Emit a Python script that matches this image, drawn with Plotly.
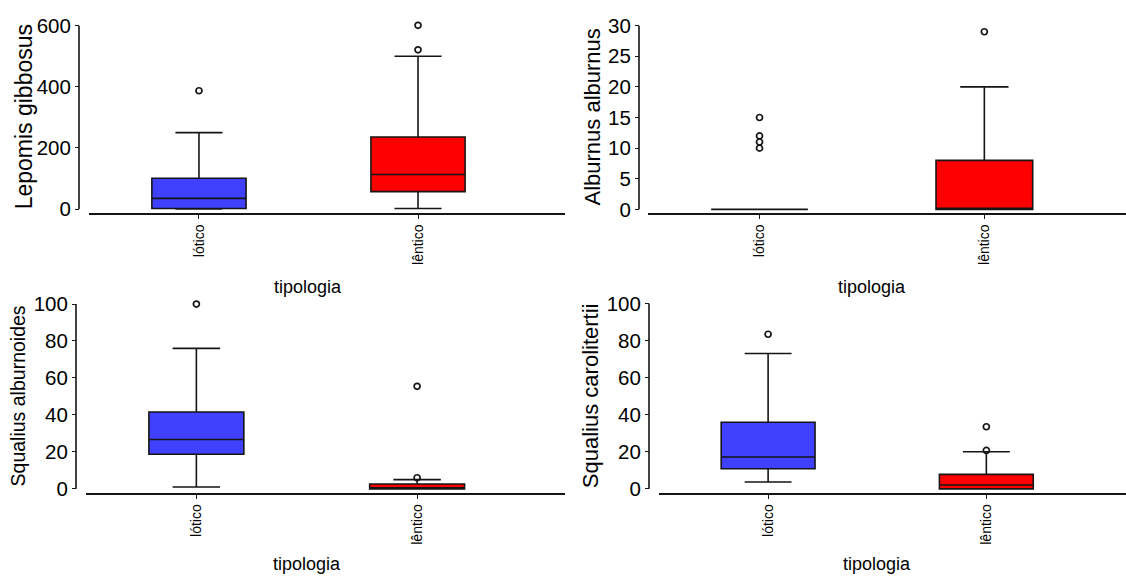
import plotly.graph_objects as go

W, H = 1126, 577

categories = ["lótico", "lêntico"]

# Box statistics per species: [lótico, lêntico]
species = ["Lepomis gibbosus", "Alburnus alburnus", "Squalius alburnoides", "Squalius carolitertii"]

lepomis_q1 = [2, 57]
lepomis_median = [35, 113]
lepomis_q3 = [101, 236]
lepomis_low = [0, 2]
lepomis_high = [250, 500]
lepomis_out_lotico = [387]
lepomis_out_lentico = [521, 601]

alburnus_q1 = [0, 0]
alburnus_median = [0, 0]
alburnus_q3 = [0, 8]
alburnus_low = [0, 0]
alburnus_high = [0, 20]
alburnus_out_lotico = [10, 11, 12, 15]
alburnus_out_lentico = [29]

salb_q1 = [18.7, 0]
salb_median = [26.7, 0]
salb_q3 = [41.6, 2.6]
salb_low = [1, 0]
salb_high = [76, 5]
salb_out_lotico = [100]
salb_out_lentico = [6, 55.5]

scar_q1 = [10.8, 0]
scar_median = [17.2, 2.1]
scar_q3 = [35.9, 7.8]
scar_low = [3.7, 0]
scar_high = [73, 20]
scar_out_lotico = [83.4]
scar_out_lentico = [20.7, 33.5]

y_ticks = [
    [0, 200, 400, 600],
    [0, 5, 10, 15, 20, 25, 30],
    [0, 20, 40, 60, 80, 100],
    [0, 20, 40, 60, 80, 100],
]

stats = [
    (lepomis_q1, lepomis_median, lepomis_q3, lepomis_low, lepomis_high, lepomis_out_lotico, lepomis_out_lentico),
    (alburnus_q1, alburnus_median, alburnus_q3, alburnus_low, alburnus_high, alburnus_out_lotico, alburnus_out_lentico),
    (salb_q1, salb_median, salb_q3, salb_low, salb_high, salb_out_lotico, salb_out_lentico),
    (scar_q1, scar_median, scar_q3, scar_low, scar_high, scar_out_lotico, scar_out_lentico),
]

fills = ["#4040ff", "#ff0000"]
ink = "#151515"

# Panel geometry in pixels
panels = [
    dict(xl=89, xr=565, xrange=[-0.502, 1.671], yaxis_px=79, zero_px=211, top_px=25,
         line_px=215, dom_top=12, title_x=24, title_size=23, xt=(308, 290)),
    dict(xl=648, xr=1126, xrange=[-0.496, 1.63], yaxis_px=639, zero_px=211.3, top_px=25,
         line_px=215, dom_top=12, title_x=593, title_size=22, xt=(872, 290)),
    dict(xl=86, xr=565, xrange=[-0.5, 1.67], yaxis_px=76, zero_px=494.7, top_px=307.3,
         line_px=498.7, dom_top=296, title_x=18, title_size=19.5, xt=(307, 571)),
    dict(xl=659, xr=1126, xrange=[-0.5, 1.64], yaxis_px=649, zero_px=494.7, top_px=306.7,
         line_px=498.7, dom_top=296, title_x=590, title_size=22, xt=(877, 571)),
]

fig = go.Figure()
layout = dict(
    width=W, height=H,
    margin=dict(l=0, r=0, t=0, b=0),
    paper_bgcolor="white", plot_bgcolor="white",
    showlegend=False,
    font=dict(family="Liberation Sans, Arial, sans-serif", color="black"),
    shapes=[], annotations=[],
)

for i, (p, st) in enumerate(zip(panels, stats)):
    n = i + 1
    xa = "x" if n == 1 else f"x{n}"
    ya = "y" if n == 1 else f"y{n}"
    q1, med, q3, lo, hi, out_a, out_b = st
    vmax = y_ticks[i][-1]
    scale = (p["zero_px"] - p["top_px"]) / vmax
    r_lo = -(p["line_px"] - p["zero_px"]) / scale
    r_hi = vmax + (p["top_px"] - p["dom_top"]) / scale

    for j, cat in enumerate(categories):
        fig.add_trace(go.Box(
            x=[cat], q1=[q1[j]], median=[med[j]], q3=[q3[j]],
            lowerfence=[lo[j]], upperfence=[hi[j]],
            boxpoints=False, fillcolor=fills[j],
            line=dict(color=ink, width=1.6),
            width=0.43, whiskerwidth=0.5,
            xaxis=xa, yaxis=ya, hoverinfo="skip",
        ))
    for cat, outs in zip(categories, [out_a, out_b]):
        fig.add_trace(go.Scatter(
            x=[cat] * len(outs), y=outs, mode="markers",
            marker=dict(symbol="circle-open", size=6, color=ink, line=dict(width=1.7)),
            cliponaxis=False, xaxis=xa, yaxis=ya, hoverinfo="skip",
        ))

    xkey = "xaxis" if n == 1 else f"xaxis{n}"
    ykey = "yaxis" if n == 1 else f"yaxis{n}"
    layout[xkey] = dict(
        domain=[p["xl"] / W, p["xr"] / W], anchor=ya,
        type="category", categoryorder="array", categoryarray=categories,
        range=p["xrange"], showgrid=False, zeroline=False,
        showline=True, linecolor=ink, linewidth=1.8,
        ticks="outside", ticklen=4, tickcolor=ink, tickwidth=1.3,
        tickangle=-90, tickfont=dict(size=14),
    )
    layout[ykey] = dict(
        domain=[1 - p["line_px"] / H, 1 - p["dom_top"] / H],
        anchor="free", position=p["yaxis_px"] / W,
        range=[r_lo, r_hi], tickvals=y_ticks[i],
        showgrid=False, zeroline=False, showline=False,
        ticks="outside", ticklen=4, tickcolor=ink, tickwidth=1.3,
        tickfont=dict(size=20.5),
    )
    # y axis line spanning only the tick range
    layout["shapes"].append(dict(
        type="line", xref="paper", yref=ya,
        x0=p["yaxis_px"] / W, x1=p["yaxis_px"] / W, y0=0, y1=vmax,
        line=dict(color=ink, width=1.6),
    ))
    layout["annotations"].append(dict(
        text=species[i], xref="paper", yref="paper",
        x=p["title_x"] / W, y=1 - ((p["zero_px"] + p["top_px"]) / 2) / H,
        textangle=-90, showarrow=False, xanchor="center", yanchor="middle",
        font=dict(size=p["title_size"]),
    ))
    layout["annotations"].append(dict(
        text="tipologia", xref="paper", yref="paper",
        x=p["xt"][0] / W, y=1 - p["xt"][1] / H,
        showarrow=False, xanchor="center", yanchor="middle",
        font=dict(size=18),
    ))

fig.update_layout(**layout)
fig.write_html("out.html")
